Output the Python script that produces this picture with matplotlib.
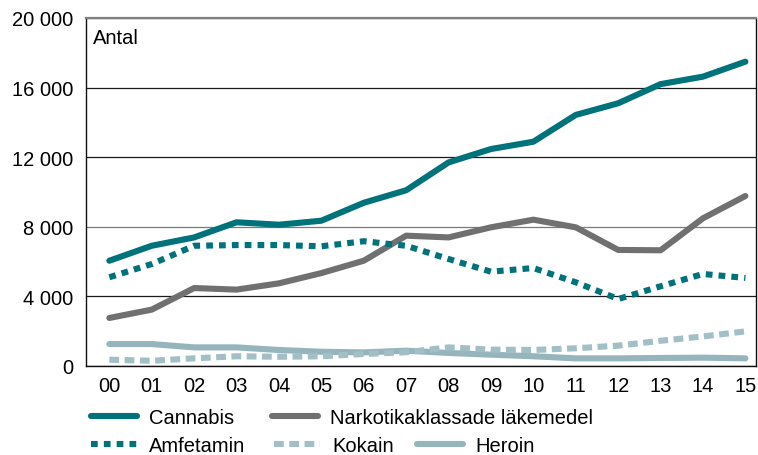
import numpy as np
import matplotlib
matplotlib.use("Agg")
import matplotlib.pyplot as plt
from matplotlib.lines import Line2D

plt.rcParams['font.family'] = ['Liberation Sans', 'DejaVu Sans']

years = ['00', '01', '02', '03', '04', '05', '06', '07',
         '08', '09', '10', '11', '12', '13', '14', '15']
cannabis = [6050, 6910, 7390, 8260, 8120, 8350, 9380, 10100,
            11700, 12470, 12890, 14430, 15100, 16200, 16630, 17490]
lakemedel = [2760, 3240, 4480, 4390, 4750, 5340, 6050, 7490,
             7390, 7970, 8410, 7970, 6670, 6650, 8490, 9770]
amfetamin = [5100, 5860, 6910, 6950, 6950, 6880, 7170, 6910,
             6150, 5420, 5630, 4810, 3850, 4580, 5290, 5060]
kokain = [360, 300, 440, 560, 530, 560, 690, 790,
          1070, 940, 920, 1020, 1170, 1450, 1700, 1990]
heroin = [1260, 1260, 1070, 1070, 920, 820, 780, 880,
          750, 650, 560, 440, 440, 460, 480, 440]
yticks = [0, 4000, 8000, 12000, 16000, 20000]

teal = '#00727a'
grey = '#707070'
light = '#a2bfc6'
heroin_c = '#95b4bc'
fs = 14.5

fig = plt.figure(figsize=(7.58, 4.56), dpi=100)
ax = fig.add_axes([86 / 758, 1 - 367 / 456, 670 / 758, 348 / 456])

x = np.arange(len(years))
lw = 4.4
amf_dash = (1.1, 1.0)
kok_dash = (1.6, 0.9)
ax.plot(x, heroin, color=heroin_c, lw=lw, solid_capstyle='round', zorder=3)
ax.plot(x, kokain, color=light, lw=lw, dashes=kok_dash, zorder=4)
ax.plot(x, lakemedel, color=grey, lw=lw, solid_capstyle='round', zorder=5)
ax.plot(x, amfetamin, color=teal, lw=lw, dashes=amf_dash, zorder=6)
ax.plot(x, cannabis, color=teal, lw=lw, solid_capstyle='round', zorder=7)

ax.set_xlim(-0.55, 15.25)
ax.set_ylim(0, 20000)
ax.set_xticks(x)
ax.set_xticklabels(years)
ax.set_yticks(yticks)
ax.set_yticklabels([f'{v:,}'.replace(',', ' ') for v in yticks])
ax.tick_params(length=0, labelsize=fs)
ax.tick_params(axis='y', pad=9)
ax.tick_params(axis='x', pad=7)

ax.set_axisbelow(True)
ax.grid(axis='y', color='#1a1a1a', lw=0.9)
for v, gl in zip(yticks, ax.get_ygridlines()):
    if v == 8000:
        gl.set_color('#7a7a7a')

for side in ['left', 'bottom', 'right']:
    ax.spines[side].set_color('#111111')
    ax.spines[side].set_linewidth(1.0)
ax.spines['top'].set_color('#808080')
ax.spines['top'].set_linewidth(1.6)

ax.text(0.01, 0.97, 'Antal', transform=ax.transAxes, fontsize=fs,
        va='top', ha='left')


def handle(color, dashes=None):
    h = Line2D([], [], color=color, lw=lw, solid_capstyle='round')
    if dashes:
        h.set_dashes(dashes)
    return h


# one legend entry per position, to match the uneven layout
entries = [
    (handle(teal), 'Cannabis', 91, 419),
    (handle(grey), 'Narkotikaklassade läkemedel', 272, 419),
    (handle(teal, amf_dash), 'Amfetamin', 91, 447),
    (handle(light, kok_dash), 'Kokain', 274, 447),
    (handle(heroin_c), 'Heroin', 417, 447),
]
for h, label, px, py in entries:
    fig.legend([h], [label], frameon=False, fontsize=fs, borderpad=0,
               borderaxespad=0, handlelength=2.3, handletextpad=0.6,
               loc='center left', bbox_to_anchor=(px / 758, 1 - py / 456))

fig.savefig('out.png', dpi=100)
